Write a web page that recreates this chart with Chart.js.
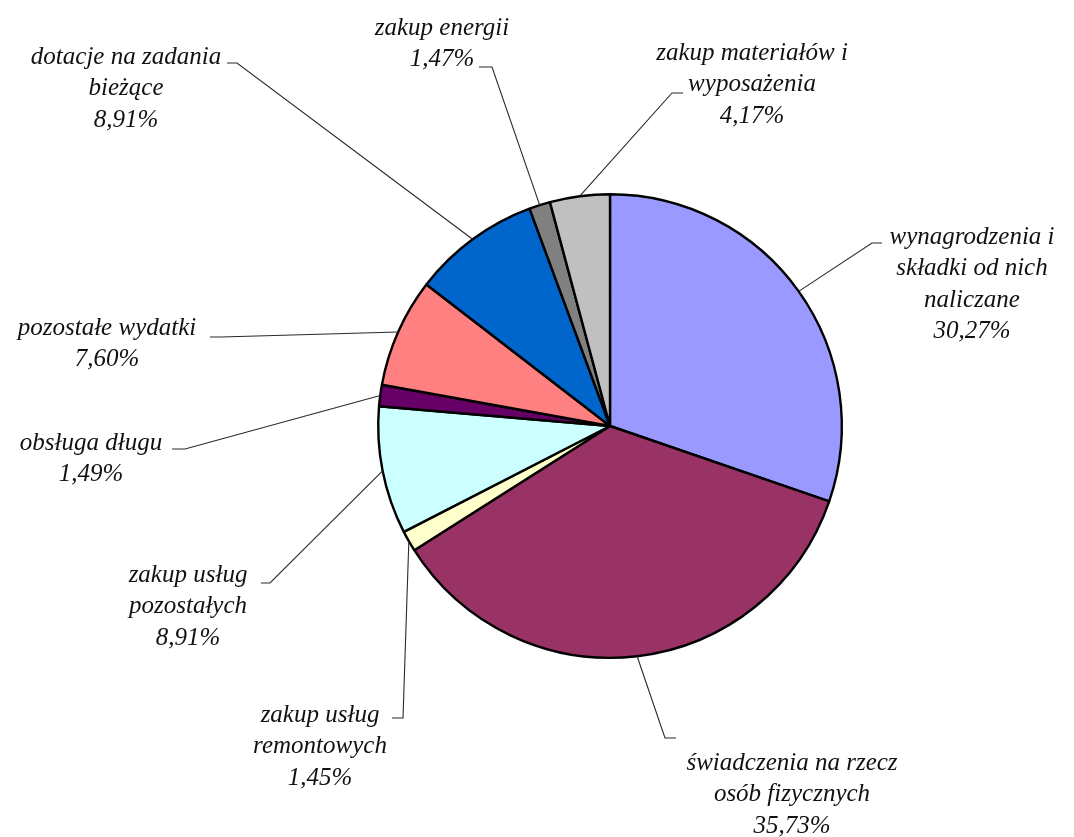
<!DOCTYPE html>
<html>
<head>
<meta charset="utf-8">
<script src="https://cdn.jsdelivr.net/npm/chart.js@4.4.1/dist/chart.umd.min.js"></script>
<style>
  html, body { margin: 0; padding: 0; background: #ffffff; }
  #wrap { width: 1074px; height: 837px; position: relative; }
</style>
</head>
<body>
<div id="wrap"><canvas id="c" width="1074" height="837"></canvas></div>
<script>
// ---- data ----
const categories = [
  "wynagrodzenia i\nskładki od nich\nnaliczane",
  "świadczenia na rzecz\nosób fizycznych",
  "zakup usług\nremontowych",
  "zakup usług\npozostałych",
  "obsługa długu",
  "pozostałe wydatki",
  "dotacje na zadania\nbieżące",
  "zakup energii",
  "zakup materiałów i\nwyposażenia"
];
const shares = [30.27, 35.73, 1.45, 8.91, 1.49, 7.60, 8.91, 1.47, 4.17];
const sliceColors = ["#9999FF", "#993366", "#FFFFCC", "#CCFFFF", "#660066", "#FF8080", "#0066CC", "#808080", "#C0C0C0"];

// ---- label layout (text centre x, first line centre y, leader elbow, tick end) ----
const labelLayout = [
  { tx: 972, ty: 237, ex: 872, ey: 243, kx: 882 },
  { tx: 792, ty: 763, ex: 665, ey: 738, kx: 676 },
  { tx: 320, ty: 715, ex: 403, ey: 718, kx: 392 },
  { tx: 188, ty: 575, ex: 270, ey: 583, kx: 261 },
  { tx: 91,  ty: 443, ex: 185, ey: 449, kx: 172 },
  { tx: 107, ty: 328, ex: 221, ey: 337, kx: 210 },
  { tx: 126, ty: 57,  ex: 237, ey: 63,  kx: 227 },
  { tx: 442, ty: 28,  ex: 492, ey: 67,  kx: 479 },
  { tx: 752, ty: 53,  ex: 672, ey: 93,  kx: 683 }
];
const LINE_H = 31.5;
const LABEL_FONT = "italic 25px 'Liberation Serif', 'DejaVu Serif', serif";

const fmtPct = v => v.toFixed(2).replace('.', ',') + '%';

const leaderLabels = {
  id: 'leaderLabels',
  afterDatasetsDraw(chart) {
    const ctx = chart.ctx;
    const meta = chart.getDatasetMeta(0);
    ctx.save();
    meta.data.forEach((arc, i) => {
      const L = labelLayout[i];
      const p = arc.getProps(['x', 'y', 'startAngle', 'endAngle', 'outerRadius'], true);
      const mid = (p.startAngle + p.endAngle) / 2;
      const sx = p.x + p.outerRadius * Math.cos(mid);
      const sy = p.y + p.outerRadius * Math.sin(mid);
      ctx.strokeStyle = '#2a2a2a';
      ctx.lineWidth = 1.1;
      ctx.beginPath();
      ctx.moveTo(sx, sy);
      ctx.lineTo(L.ex, L.ey);
      ctx.lineTo(L.kx, L.ey);
      ctx.stroke();

      const lines = chart.data.labels[i].split('\n');
      lines.push(fmtPct(chart.data.datasets[0].data[i]));
      ctx.font = LABEL_FONT;
      ctx.fillStyle = '#111111';
      ctx.textAlign = 'center';
      ctx.textBaseline = 'middle';
      lines.forEach((t, k) => ctx.fillText(t, L.tx, L.ty + k * LINE_H));
    });
    ctx.restore();
  }
};

new Chart(document.getElementById('c'), {
  type: 'pie',
  data: {
    labels: categories,
    datasets: [{
      data: shares,
      backgroundColor: sliceColors,
      borderColor: '#000000',
      borderWidth: 2.4,
      borderAlign: 'center'
    }]
  },
  options: {
    responsive: false,
    animation: false,
    layout: { padding: { top: 193, bottom: 178, left: 377, right: 231 } },
    plugins: {
      legend: { display: false },
      tooltip: { enabled: false },
      title: { display: false }
    }
  },
  plugins: [leaderLabels]
});
</script>
</body>
</html>
